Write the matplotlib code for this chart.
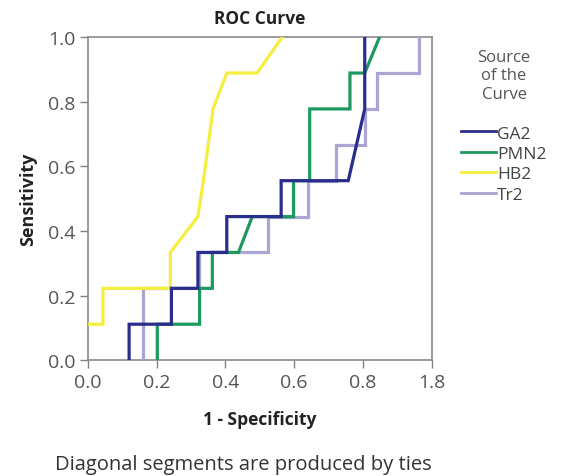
"""ROC curves for four markers, SPSS style."""

import matplotlib

matplotlib.use("Agg")
import matplotlib.pyplot as plt

NINTH = 1 / 9

# (1 - specificity, sensitivity) points
ga2_x = [0.12, 0.12, 0.243, 0.243, 0.32, 0.32, 0.404, 0.404, 0.562, 0.562, 0.757, 0.805, 0.805]
ga2_y = [0, 1, 1, 2, 2, 3, 3, 4, 4, 5, 5, 7, 9]

pmn2_x = [0.202, 0.202, 0.325, 0.325, 0.362, 0.362, 0.438, 0.478, 0.598, 0.598, 0.645, 0.645,
          0.762, 0.762, 0.805, 0.848]
pmn2_y = [0, 1, 1, 2, 2, 3, 3, 4, 4, 5, 5, 7, 7, 8, 8, 9]

hb2_x = [0.0, 0.044, 0.044, 0.24, 0.24, 0.32, 0.336, 0.364, 0.404, 0.492, 0.565]
hb2_y = [1, 1, 2, 2, 3, 4, 5, 7, 8, 8, 9]

tr2_x = [0.16, 0.16, 0.322, 0.322, 0.524, 0.524, 0.64, 0.64, 0.722, 0.722, 0.805, 0.805,
         0.84, 0.84, 0.962, 0.962]
tr2_y = [0, 2, 2, 3, 3, 4, 4, 5, 5, 6, 6, 7, 7, 8, 8, 9]

curve_names = ["GA2", "PMN2", "HB2", "Tr2"]
curve_colors = ["#2a2d8c", "#1c9a5e", "#f4ee3c", "#aaa5d2"]

x_ticks = [0.0, 0.2, 0.4, 0.6, 0.8, 1.0]
x_tick_labels = ["0.0", "0.2", "0.4", "0.6", "0.8", "1.8"]
y_ticks = [0.0, 0.2, 0.4, 0.6, 0.8, 1.0]

plt.rcParams.update({
    "font.family": ["Open Sans", "DejaVu Sans"],
    "figure.facecolor": "white",
    "axes.facecolor": "white",
})

fig = plt.figure(figsize=(5.63, 4.77), dpi=100)
ax = fig.add_axes([0.156, 0.243, 0.611, 0.677])

series = [(ga2_x, ga2_y), (pmn2_x, pmn2_y), (hb2_x, hb2_y), (tr2_x, tr2_y)]
# draw order: lavender under, navy on top
for idx in [3, 2, 1, 0]:
    xs, ys = series[idx]
    ax.plot(xs, [v * NINTH for v in ys], color=curve_colors[idx], lw=2.3,
            label=curve_names[idx], solid_joinstyle="miter", zorder=3 + (3 - idx))

ax.set_xlim(0, 1)
ax.set_ylim(0, 1)
ax.set_xticks(x_ticks)
ax.set_xticklabels(x_tick_labels)
ax.set_yticks(y_ticks)
ax.set_yticklabels([f"{t:.1f}" for t in y_ticks])
ax.tick_params(direction="out", length=6, width=1, colors="#808080",
               labelcolor="#555555", labelsize=14, pad=3)
for sp in ax.spines.values():
    sp.set_color("#8a8a8a")
    sp.set_linewidth(1.2)

ax.set_title("ROC Curve", fontsize=12.5, fontweight="bold", color="#222222", pad=10)
ax.set_xlabel("1 - Specificity", fontsize=12.5, fontweight="bold", color="#222222", labelpad=14)
ax.set_ylabel("Sensitivity", fontsize=13, fontweight="bold", color="#222222", labelpad=8)

handles, labels = ax.get_legend_handles_labels()
order = [labels.index(n) for n in curve_names]
leg = ax.legend([handles[i] for i in order], [labels[i] for i in order],
                title="Source\nof the\nCurve", loc="upper left",
                bbox_to_anchor=(1.066, 0.985), frameon=False, fontsize=12.5,
                title_fontsize=12, handlelength=2.0, handletextpad=0.05,
                labelspacing=0.25, borderaxespad=0, alignment="center")
leg.get_title().set_color("#555555")
leg.get_title().set_ha("center")
leg._legend_box.sep = 17
for line in leg.get_lines():
    line.set_linewidth(2.0)
for t in leg.get_texts():
    t.set_color("#444444")

fig.text(0.432, 0.005, "Diagonal segments are produced by ties", ha="center",
         va="bottom", fontsize=14.5, color="#333333")

fig.savefig("out.png", dpi=100)
